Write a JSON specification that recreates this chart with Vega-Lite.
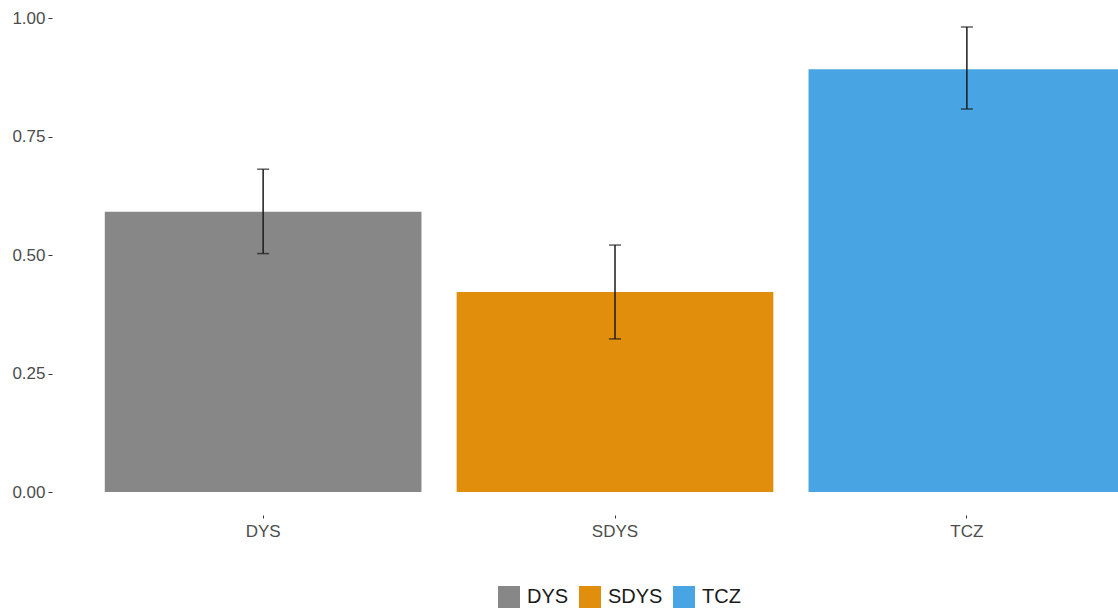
{
  "$schema": "https://vega.github.io/schema/vega-lite/v6.json",
  "autosize": "none",
  "width": 1126,
  "height": 497,
  "padding": {"left": 52, "top": 18, "right": 0, "bottom": 93},
  "background": "white",
  "config": {
    "view": {"stroke": null},
    "font": "Liberation Sans",
    "axis": {"grid": false, "domain": false, "tickColor": "#333333", "tickSize": 4, "labelFontSize": 17, "labelColor": "#4D4D4D", "labelFont": "Liberation Sans"}
  },
  "data": {
    "values": [
      {"group": "DYS", "value": 0.591, "lo": 0.503, "hi": 0.681},
      {"group": "SDYS", "value": 0.422, "lo": 0.323, "hi": 0.521},
      {"group": "TCZ", "value": 0.892, "lo": 0.808, "hi": 0.981}
    ]
  },
  "encoding": {
    "x": {
      "field": "group", "type": "nominal", "title": null,
      "scale": {"paddingInner": 0.1, "paddingOuter": 0.15},
      "axis": {"labelAngle": 0, "tickSize": 3, "labelPadding": 5}
    }
  },
  "layer": [
    {
      "mark": {"type": "bar"},
      "encoding": {
        "y": {
          "field": "value", "type": "quantitative", "title": null,
          "scale": {"domain": [-0.0485, 1.0], "nice": false, "zero": false},
          "axis": {"values": [0, 0.25, 0.5, 0.75, 1.0], "format": ".2f", "labelPadding": 3}
        },
        "y2": {"datum": 0},
        "color": {
          "field": "group", "type": "nominal",
          "scale": {"domain": ["DYS", "SDYS", "TCZ"], "range": ["#878787", "#E08E0B", "#48A4E3"]},
          "legend": {
            "title": null, "orient": "none", "legendX": 446, "legendY": 568, "direction": "horizontal",
            "symbolType": "square", "symbolSize": 484, "symbolStrokeWidth": 0,
            "labelFontSize": 20, "labelColor": "#1A1A1A", "labelFont": "Liberation Sans",
            "columnPadding": 10, "labelOffset": 7
          }
        }
      }
    },
    {
      "mark": {"type": "rule", "color": "#1A1A1A", "strokeWidth": 1.5},
      "encoding": {
        "y": {"field": "lo", "type": "quantitative"},
        "y2": {"field": "hi"}
      }
    },
    {
      "mark": {"type": "tick", "color": "#1A1A1A", "thickness": 1.5, "size": 12},
      "encoding": {"y": {"field": "lo", "type": "quantitative"}}
    },
    {
      "mark": {"type": "tick", "color": "#1A1A1A", "thickness": 1.5, "size": 12},
      "encoding": {"y": {"field": "hi", "type": "quantitative"}}
    }
  ]
}
